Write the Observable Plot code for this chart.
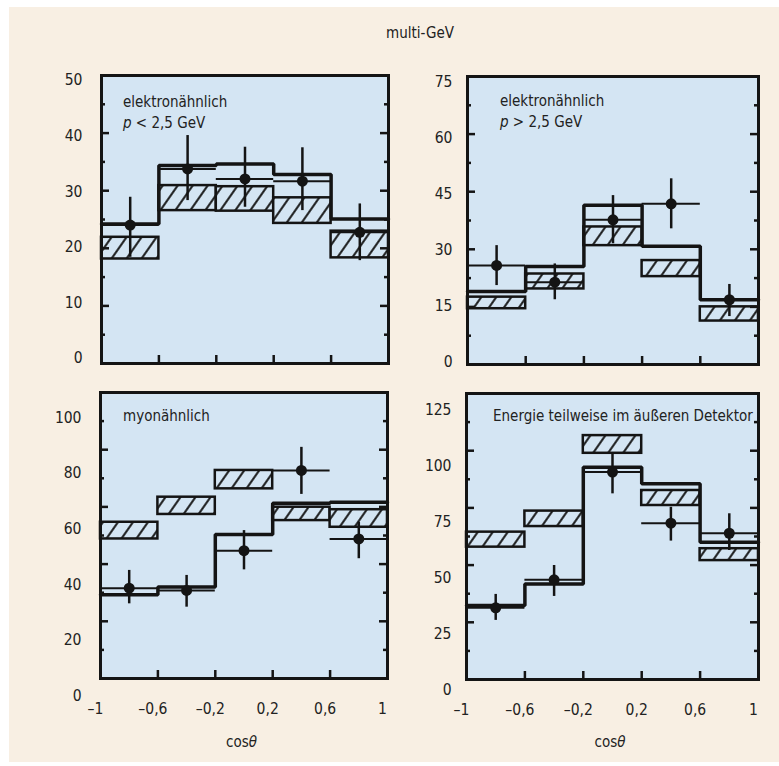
<!DOCTYPE html>
<html><head><meta charset="utf-8">
<script src="https://cdn.jsdelivr.net/npm/d3@7"></script>
<script src="https://cdn.jsdelivr.net/npm/@observablehq/plot@0.6"></script>
<style>
html,body{margin:0;padding:0;background:#fff;}
body{font-family:"DejaVu Sans Condensed","Liberation Sans Narrow",sans-serif;font-stretch:condensed;color:#222;}
#bg{position:absolute;left:9px;top:7px;width:770px;height:755px;background:#f8efe3;}
.pl{position:absolute;}
.pl svg{overflow:visible;}
.lbl{position:absolute;font-size:15px;line-height:16px;white-space:nowrap;color:#222;}
.ttl{position:absolute;font-size:15px;line-height:16px;white-space:nowrap;color:#222;transform:translateX(-50%);}
</style></head><body>
<div id="bg"></div>
<div id="root"></div>
<script>
// ---- shared
const binEdges = [-1, -0.6, -0.2, 0.2, 0.6, 1];
const xTickValues = [-1, -0.6, -0.2, 0.2, 0.6, 1];
const frameTickX = [-0.6, -0.2, 0.2, 0.6];
const chartTitle = "multi-GeV";

// ---- panel 1: elektronähnlich p < 2,5 GeV
const p1Text = ["elektronähnlich", "<i>p</i> &lt; 2,5 GeV"];
const p1YTicks = [0, 10, 20, 30, 40, 50];
const p1Solid = [24.2, 34.7, 35.0, 33.1, 25.1];
const p1HatchLow = [17.9, 26.6, 26.5, 24.3, 18.1];
const p1HatchHigh = [21.8, 31.1, 30.9, 28.9, 22.9];
const p1Data = [24.0, 34.1, 32.3, 31.9, 22.7];
const p1ErrLow = [18.2, 28.4, 27.2, 26.6, 17.6];
const p1ErrHigh = [29.0, 40.1, 38.0, 37.9, 27.8];

// ---- panel 2: elektronähnlich p > 2,5 GeV
const p2Text = ["elektronähnlich", "<i>p</i> &gt; 2,5 GeV"];
const p2YTicks = [0, 15, 30, 45, 60, 75];
const p2Solid = [19.0, 25.7, 42.1, 31.1, 16.8];
const p2HatchLow = [14.4, 19.7, 31.3, 23.0, 11.1];
const p2HatchHigh = [17.5, 23.7, 36.3, 27.3, 14.9];
const p2Data = [26.0, 21.5, 38.2, 42.5, 16.8];
const p2ErrLow = [20.6, 16.8, 31.8, 35.8, 12.3];
const p2ErrHigh = [31.3, 26.4, 44.7, 49.2, 20.9];

// ---- panel 3: myonähnlich
const p3Text = ["myonähnlich"];
const p3YTicks = [0, 20, 40, 60, 80, 100];
const p3Solid = [36.4, 39.1, 58.0, 69.2, 69.6];
const p3HatchLow = [56.4, 65.2, 74.4, 63.0, 60.6];
const p3HatchHigh = [62.4, 71.4, 81.0, 67.8, 66.9];
const p3Data = [38.7, 37.9, 52.2, 81.0, 56.4];
const p3ErrLow = [33.1, 31.9, 45.3, 72.4, 49.3];
const p3ErrHigh = [45.1, 43.3, 59.4, 89.3, 62.4];

// ---- panel 4: Energie teilweise im äußeren Detektor
const p4Text = ["Energie teilweise im äußeren Detektor"];
const p4YTicks = [0, 25, 50, 75, 100, 125];
const p4Solid = [37.9, 47.6, 99.7, 92.3, 66.2];
const p4HatchLow = [64.0, 73.2, 105.9, 82.6, 58.0];
const p4HatchHigh = [70.7, 80.1, 113.8, 89.3, 63.3];
const p4Data = [36.9, 49.4, 97.5, 74.7, 70.2];
const p4ErrLow = [31.3, 42.0, 87.8, 66.7, 62.5];
const p4ErrHigh = [42.9, 55.8, 105.7, 81.8, 78.9];

const BLUE = "#d4e5f3";
const INK = "#141414";
const FONT = "'DejaVu Sans Condensed','Liberation Sans Narrow',sans-serif";

const panels = [
  {id:"h1", text:p1Text, yTicks:p1YTicks, solid:p1Solid, hlo:p1HatchLow, hhi:p1HatchHigh, data:p1Data, elo:p1ErrLow, ehi:p1ErrHigh,
   domain:[-0.9, 50.9], frameMax:50, major:10, box:{left:101, top:75, w:287, h:288}, pad:19, xAxis:false,
   textPos:{left:123, top:94}},
  {id:"h2", text:p2Text, yTicks:p2YTicks, solid:p2Solid, hlo:p2HatchLow, hhi:p2HatchHigh, data:p2Data, elo:p2ErrLow, ehi:p2ErrHigh,
   domain:[-0.54, 76.6], frameMax:75, major:15, box:{left:467, top:76, w:291, h:288}, pad:15, xAxis:false,
   textPos:{left:500, top:93}},
  {id:"h3", text:p3Text, yTicks:p3YTicks, solid:p3Solid, hlo:p3HatchLow, hhi:p3HatchHigh, data:p3Data, elo:p3ErrLow, ehi:p3ErrHigh,
   domain:[6.28, 109.0], frameMax:100, major:20, box:{left:100, top:392, w:287, h:286}, pad:19, xAxis:true,
   textPos:{left:123, top:408}},
  {id:"h4", text:p4Text, yTicks:p4YTicks, solid:p4Solid, hlo:p4HatchLow, hhi:p4HatchHigh, data:p4Data, elo:p4ErrLow, ehi:p4ErrHigh,
   domain:[4.91, 132.6], frameMax:125, major:25, box:{left:466, top:393, w:292, h:286}, pad:15, xAxis:true,
   textPos:{left:493, top:408}}
];

const fmtX = d => (d < 0 ? "\u2013" : "") + String(Math.abs(d)).replace(".", ",");
const root = document.getElementById("root");

function addDiv(cls, html, left, top) {
  const el = document.createElement("div");
  el.className = cls; el.innerHTML = html;
  el.style.left = left + "px"; el.style.top = top + "px";
  document.body.appendChild(el);
  return el;
}

addDiv("ttl", chartTitle, 420, 25);

for (const p of panels) {
  const ml = 70, mr = 12, mt = 12, mb = p.xAxis ? 40 : 12;
  const [lo, hi] = p.domain;
  const bins = d3.range(5).map(i => ({
    x1: binEdges[i], x2: binEdges[i + 1], xc: (binEdges[i] + binEdges[i + 1]) / 2,
    solid: p.solid[i], hlo: p.hlo[i], hhi: p.hhi[i], v: p.data[i], elo: p.elo[i], ehi: p.ehi[i]
  }));
  const step = bins.flatMap(b => [{x: b.x1, y: b.solid}, {x: b.x2, y: b.solid}]);
  const toU = v => lo + v * (hi - lo) / p.frameMax;
  const half = p.major / 2;
  const frameTicks = d3.range(1, Math.round(p.frameMax / half)).map(k => ({u: toU(k * half), len: k % 2 === 0 ? 8 : 4}));
  const pxX = 2 / p.box.w, pxY = (hi - lo) / p.box.h;

  const marks = [
    Plot.frame({fill: BLUE, stroke: null}),
    Plot.rect(bins, {x1: "x1", x2: "x2", y1: "hlo", y2: "hhi", fill: `url(#${p.id})`, stroke: INK, strokeWidth: 2.5}),
    Plot.line(step, {x: "x", y: "y", stroke: INK, strokeWidth: 3.5, strokeLinejoin: "miter"}),
    Plot.ruleY(bins, {y: "v", x1: "x1", x2: "x2", stroke: INK, strokeWidth: 2}),
    Plot.ruleX(bins, {x: "xc", y1: "elo", y2: "ehi", stroke: INK, strokeWidth: 2.5}),
    Plot.dot(bins, {x: "xc", y: "v", r: 5.5, fill: INK, stroke: null}),
    Plot.ruleY(frameTicks, {y: "u", x1: () => -1, x2: d => -1 + d.len * pxX, stroke: INK, strokeWidth: 2.5}),
    Plot.ruleY(frameTicks, {y: "u", x1: d => 1 - d.len * pxX, x2: () => 1, stroke: INK, strokeWidth: 2.5}),
    Plot.ruleX(frameTickX, {x: d => d, y1: () => lo, y2: () => lo + 8 * pxY, stroke: INK, strokeWidth: 2.5}),
    Plot.frame({stroke: INK, strokeWidth: 3}),
    Plot.axisY({ticks: p.yTicks, tickSize: 0, tickPadding: p.pad, fontSize: 15.5, tickFormat: d => String(d)})
  ];
  if (p.xAxis) marks.push(Plot.axisX({ticks: xTickValues, tickSize: 0, tickPadding: 24, fontSize: 15.5, tickFormat: fmtX, dx: -5}));

  const svg = Plot.plot({
    width: ml + p.box.w + mr, height: mt + p.box.h + mb,
    marginLeft: ml, marginRight: mr, marginTop: mt, marginBottom: mb,
    x: {domain: [-1, 1], axis: null},
    y: {domain: [lo, hi], axis: null},
    style: {background: "transparent", fontFamily: FONT, fontStretch: "condensed", fontSize: "15.5px", color: "#222", overflow: "visible"},
    marks
  });
  const defs = d3.select(svg).insert("defs", ":first-child");
  const pat = defs.append("pattern").attr("id", p.id).attr("patternUnits", "userSpaceOnUse")
    .attr("width", 15).attr("height", 15).attr("patternTransform", "skewX(-35)");
  pat.append("rect").attr("width", 15).attr("height", 15).attr("fill", BLUE);
  pat.append("line").attr("x1", 7.5).attr("x2", 7.5).attr("y1", -1).attr("y2", 16)
    .attr("stroke", INK).attr("stroke-width", 2.4);

  const wrap = document.createElement("div");
  wrap.className = "pl";
  wrap.style.left = (p.box.left - ml) + "px";
  wrap.style.top = (p.box.top - mt) + "px";
  wrap.appendChild(svg);
  root.appendChild(wrap);

  p.text.forEach((t, i) => addDiv("lbl", t, p.textPos.left, p.textPos.top + i * 21));
  if (p.xAxis) addDiv("ttl", "cos<i>θ</i>", p.box.left + p.box.w / 2 - 2, 734);
}
</script>
</body></html>
